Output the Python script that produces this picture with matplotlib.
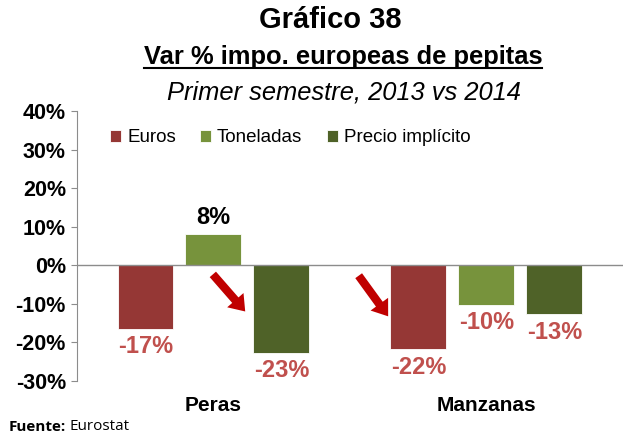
import numpy as np
import matplotlib
matplotlib.use('Agg')
import matplotlib.pyplot as plt
from matplotlib.patches import FancyArrowPatch

# data
categories = ['Peras', 'Manzanas']
series = ['Euros', 'Toneladas', 'Precio implícito']
euros = [-16.5, -21.8]
toneladas = [8.1, -10.3]
precio = [-22.8, -12.7]
labels_euros = ['-17%', '-22%']
labels_toneladas = ['8%', '-10%']
labels_precio = ['-23%', '-13%']
yticks = [-30, -20, -10, 0, 10, 20, 30, 40]

colors = ['#953735', '#77933C', '#4F6228']

plt.rcParams['font.family'] = ['Liberation Sans', 'DejaVu Sans']

fig = plt.figure(figsize=(6.26, 4.34), dpi=100)
ax = fig.add_axes([0.123, 0.122, 0.872, 0.622])

x = np.arange(len(categories))
w = 0.205
off = 0.249
vals = [euros, toneladas, precio]
labs = [labels_euros, labels_toneladas, labels_precio]
for i, (v, lab, c, name) in enumerate(zip(vals, labs, colors, series)):
    xs = x + (i - 1) * off
    ax.bar(xs, v, width=w, color=c, label=name, edgecolor='white', linewidth=0.6, zorder=2)
    for xi, vi, li in zip(xs, v, lab):
        if vi >= 0:
            ax.text(xi, vi + 1.3, li, ha='center', va='bottom', fontsize=17,
                    fontweight='bold', color='black')
        else:
            ax.text(xi, vi - 1.6, li, ha='center', va='top', fontsize=17,
                    fontweight='bold', color='#C0504D')

ax.axhline(0, color='#8c8c8c', lw=1, zorder=3)
ax.set_xlim(-0.5, 1.5)
ax.set_ylim(-30, 40)
ax.set_yticks(yticks)
ax.set_yticklabels([f'{t}%' for t in yticks], fontsize=15.5, fontweight='bold')
ax.set_xticks(x)
ax.set_xticklabels(categories, fontsize=15, fontweight='bold')
ax.tick_params(axis='x', length=0, pad=11)
ax.tick_params(axis='y', length=4, color='#8c8c8c', pad=4)
for s in ['top', 'right', 'bottom']:
    ax.spines[s].set_visible(False)
ax.spines['left'].set_color('#8c8c8c')

# red arrows
for (x0, y0), (x1, y1) in [((-0.009, -1.8), (0.123, -12.5)),
                           ((0.526, -2.1), (0.646, -13.8))]:
    arr = FancyArrowPatch((x0, y0), (x1, y1),
                          arrowstyle='simple,tail_width=0.5,head_width=1.3,head_length=0.9',
                          mutation_scale=12, color='#C00000', lw=0, zorder=4)
    ax.add_patch(arr)

ax.legend(loc='upper left', bbox_to_anchor=(0.03, 0.995), ncol=3, frameon=False,
          fontsize=13.5, handlelength=0.6, handleheight=0.6, handletextpad=0.3,
          columnspacing=1.3)

fig.text(0.527, 0.954, 'Gráfico 38', ha='center', va='center', fontsize=21, fontweight='bold')
t2 = fig.text(0.548, 0.869, 'Var % impo. europeas de pepitas', ha='center', va='center',
              fontsize=18.4, fontweight='bold')
fig.text(0.549, 0.786, 'Primer semestre, 2013 vs 2014', ha='center', va='center',
         fontsize=18.4, style='italic')

# underline for second title line
fig.canvas.draw()
bb = t2.get_window_extent().transformed(fig.transFigure.inverted())
fig.add_artist(plt.Line2D([bb.x0, bb.x1], [bb.y0 + 0.002, bb.y0 + 0.002],
                          transform=fig.transFigure, color='black', lw=1.5))

f1 = fig.text(0.013, 0.0, 'Fuente:', fontsize=11, fontweight='bold', ha='left',
              va='bottom', family=['Open Sans', 'DejaVu Sans'])
fig.canvas.draw()
fb = f1.get_window_extent().transformed(fig.transFigure.inverted())
fig.text(fb.x1 + 0.006, 0.0, 'Eurostat', fontsize=11, ha='left', va='bottom',
         family=['Open Sans', 'DejaVu Sans'])

fig.savefig('out.png', dpi=100)
